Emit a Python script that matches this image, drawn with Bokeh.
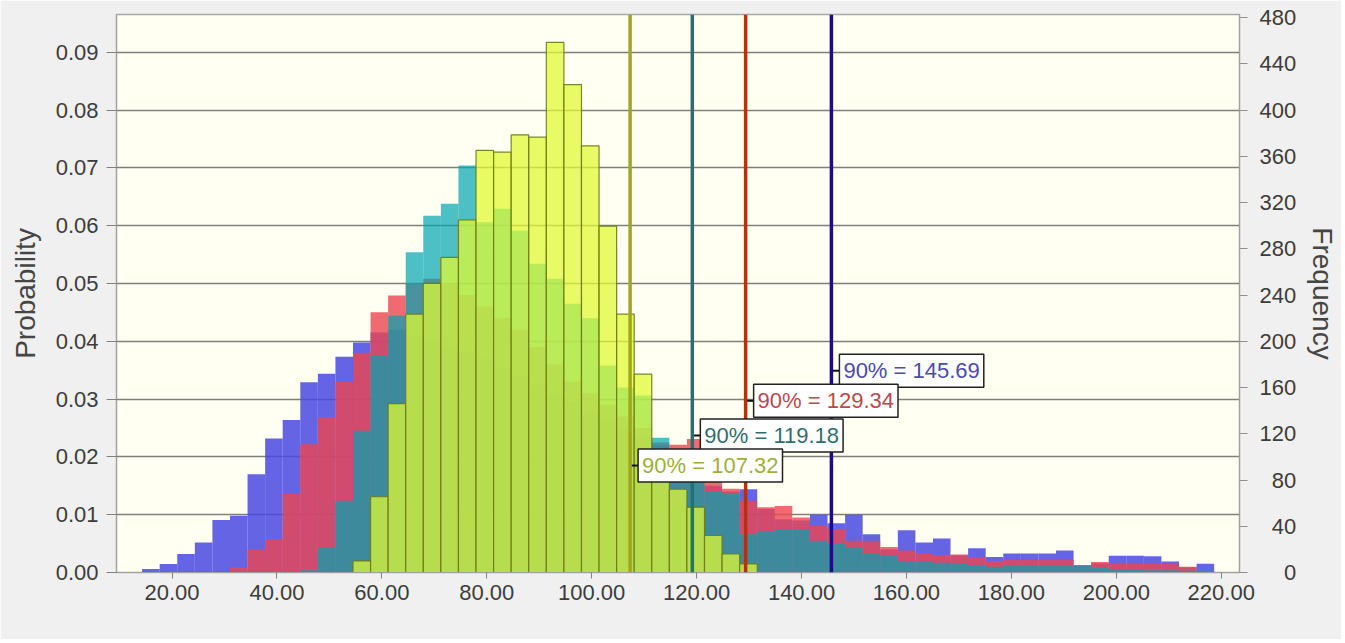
import numpy as np
from bokeh.plotting import figure
from bokeh.models import (Range1d, LinearAxis, FixedTicker, NumeralTickFormatter,
                          Span, Label, CustomJSTickFormatter)
from bokeh.embed import file_html
from bokeh.resources import INLINE

# ---------------- data ----------------
BIN_START = 14.3
BIN_WIDTH = 3.35
N_TRIALS = 5000

blue_prob = [0.0006, 0.00145, 0.0032, 0.0052, 0.0091, 0.0098, 0.0170, 0.0232, 0.0264, 0.0329,
             0.0344, 0.0373, 0.0398, 0.0415, 0.0420, 0.0410, 0.0400, 0.0390, 0.0380, 0.0370,
             0.0355, 0.0340, 0.0325, 0.0310, 0.0295, 0.0280, 0.0265, 0.0250, 0.0235, 0.0220,
             0.0205, 0.0180, 0.0150, 0.0140, 0.0144, 0.0110, 0.0092, 0.0090, 0.0100, 0.0085,
             0.0100, 0.0066, 0.0040, 0.0073, 0.0052, 0.0059, 0.0030, 0.0042, 0.0027, 0.0033,
             0.0033, 0.0033, 0.0038, 0.0012, 0.0016, 0.0029, 0.0029, 0.0028, 0.0019, 0.0009,
             0.0015]
red_prob = [0, 0, 0, 0, 0, 0.0009, 0.0040, 0.0058, 0.0136, 0.0222,
            0.0268, 0.0330, 0.0380, 0.0450, 0.0479, 0.0499, 0.0508, 0.0500, 0.0480, 0.0460,
            0.0440, 0.0420, 0.0390, 0.0360, 0.0330, 0.0310, 0.0290, 0.0270, 0.0250, 0.0225,
            0.0221, 0.0231, 0.0158, 0.0145, 0.0124, 0.0113, 0.0115, 0.0095, 0.0081, 0.0075,
            0.0055, 0.0055, 0.0044, 0.0038, 0.0032, 0.0030, 0.0031, 0.0027, 0.0020, 0.0022,
            0.0022, 0.0022, 0.0022, 0.0012, 0.0018, 0.0015, 0.0015, 0.0015, 0.0015, 0.0010,
            0.0]
teal_prob = [0, 0, 0, 0, 0, 0, 0, 0, 0, 0.0004,
             0.0043, 0.0124, 0.0245, 0.0375, 0.0444, 0.0554, 0.0617, 0.0638, 0.0704, 0.0606,
             0.0629, 0.0591, 0.0534, 0.0508, 0.0465, 0.0440, 0.0358, 0.0320, 0.0306, 0.0233,
             0.0210, 0.0205, 0.0140, 0.0136, 0.0066, 0.0072, 0.0075, 0.0075, 0.0055, 0.0050,
             0.0043, 0.0032, 0.0030, 0.0020, 0.0020, 0.0017, 0.0015, 0.0013, 0.0010, 0.0012,
             0.0012, 0.0012, 0.0012, 0.0013, 0.0008, 0.0005, 0.0005, 0.0004, 0.0004, 0.0003,
             0.0003]
yellow_prob = [0, 0, 0, 0, 0, 0, 0, 0, 0, 0,
               0, 0, 0.0020, 0.0131, 0.0292, 0.0447, 0.0500, 0.0545, 0.0610, 0.0730,
               0.0727, 0.0757, 0.0753, 0.0917, 0.0844, 0.0738, 0.0599, 0.0447, 0.0343, 0.0200,
               0.0144, 0.0113, 0.0064, 0.0032, 0.0015, 0, 0, 0, 0, 0,
               0, 0, 0, 0, 0, 0, 0, 0, 0, 0,
               0, 0, 0, 0, 0, 0, 0, 0, 0, 0,
               0]

p90_values = [145.69, 129.34, 119.18, 107.32]
p90_labels = ["90% = 145.69", "90% = 129.34", "90% = 119.18", "90% = 107.32"]
p90_label_y = [0.0349, 0.0297, 0.0237, 0.0185]

x_ticks = [20, 40, 60, 80, 100, 120, 140, 160, 180, 200, 220]
prob_ticks = [0.0, 0.01, 0.02, 0.03, 0.04, 0.05, 0.06, 0.07, 0.08, 0.09]
freq_ticks = [0, 40, 80, 120, 160, 200, 240, 280, 320, 360, 400, 440, 480]

# ---------------- styling ----------------
series_fill = ["#4949e2", "#ec4550", "#00a5b1", "#e1fa32"]
series_alpha = [0.85, 0.8, 0.7, 0.74]
line_colors = ["#1c0c8c", "#b43212", "#217272", "#a4a61e"]
label_colors = ["#4a4ab8", "#c04848", "#2f6f6f", "#9fb03a"]

Y_MAX = 0.09652
edges = BIN_START + BIN_WIDTH * np.arange(len(blue_prob) + 1)

p = figure(width=1341, height=639, x_range=Range1d(9.42, 223.48), y_range=Range1d(0, Y_MAX),
           output_backend="svg", toolbar_location=None,
           min_border_left=116, min_border_right=98, min_border_top=14, min_border_bottom=67)
p.background_fill_color = "#fffff2"
p.border_fill_color = "#f0f0f0"
p.outline_line_color = "#a8a8a8"
p.outline_line_width = 1.5

series = [blue_prob, red_prob, teal_prob, yellow_prob]
for i, vals in enumerate(series):
    kw = dict(line_color=None)
    if i == 3:
        kw = dict(line_color="#6a7a1a", line_width=1.2, line_alpha=0.9)
    p.quad(left=edges[:-1], right=edges[1:], bottom=0, top=vals,
           fill_color=series_fill[i], fill_alpha=series_alpha[i], **kw)

for i, v in enumerate(p90_values):
    p.add_layout(Span(location=v, dimension="height", line_color=line_colors[i], line_width=3.5))

for i, v in enumerate(p90_values):
    p.segment(x0=[v], x1=[v + 1.6], y0=[p90_label_y[i]], y1=[p90_label_y[i]],
              line_color="#111111", line_width=2)
    p.add_layout(Label(x=v, y=p90_label_y[i], x_offset=8, text=p90_labels[i],
                       text_baseline="middle", text_font="Liberation Sans",
                       text_font_size="22px", text_color=label_colors[i],
                       background_fill_color="#ffffff", border_line_color="#222222",
                       border_line_width=1.5, padding=4))

# grid
p.xgrid.visible = False
p.ygrid.ticker = FixedTicker(ticks=prob_ticks)
p.ygrid.grid_line_color = "#80807a"
p.ygrid.grid_line_width = 1.6

FONT = "Liberation Sans"
TICK_COLOR = "#3c3c3c"
TICK_SIZE = "22px"

# x axis
xa = p.xaxis[0]
xa.ticker = FixedTicker(ticks=x_ticks)
xa.formatter = NumeralTickFormatter(format="0.00")
xa.major_label_text_font = FONT
xa.major_label_text_font_size = TICK_SIZE
xa.major_label_text_color = TICK_COLOR
xa.major_tick_out = 6
xa.major_tick_in = 0
xa.minor_tick_line_color = None
xa.axis_line_color = "#a0a0a0"
xa.major_tick_line_color = "#808080"
xa.major_label_standoff = 6

# left axis
ya = p.yaxis[0]
ya.ticker = FixedTicker(ticks=prob_ticks)
ya.formatter = NumeralTickFormatter(format="0.00")
ya.major_label_text_font = FONT
ya.major_label_text_font_size = TICK_SIZE
ya.major_label_text_color = TICK_COLOR
ya.major_tick_out = 10
ya.major_tick_in = 0
ya.minor_tick_line_color = None
ya.axis_line_color = "#a0a0a0"
ya.major_tick_line_color = "#808080"
ya.major_label_standoff = 8
ya.axis_label = "Probability"
ya.axis_label_text_font = FONT
ya.axis_label_text_font_size = "28px"
ya.axis_label_text_font_style = "normal"
ya.axis_label_text_color = "#454545"
ya.axis_label_standoff = 12

# right axis (frequency)
p.extra_y_ranges = {"freq": Range1d(0, Y_MAX * N_TRIALS)}
ra = LinearAxis(y_range_name="freq", ticker=FixedTicker(ticks=freq_ticks))
ra.formatter = CustomJSTickFormatter(code="return String(tick).padStart(3, '\\u2007');")
ra.major_label_text_font = FONT
ra.major_label_text_font_size = TICK_SIZE
ra.major_label_text_color = TICK_COLOR
ra.major_tick_out = 8
ra.major_tick_in = 0
ra.minor_tick_line_color = None
ra.axis_line_color = "#a0a0a0"
ra.major_tick_line_color = "#909090"
ra.major_label_standoff = 12
ra.axis_label = "Frequency"
ra.axis_label_text_font = FONT
ra.axis_label_text_font_size = "28px"
ra.axis_label_text_font_style = "normal"
ra.axis_label_text_color = "#454545"
ra.axis_label_standoff = 8
p.add_layout(ra, "right")

open("out.html", "w").write(file_html(p, INLINE))
